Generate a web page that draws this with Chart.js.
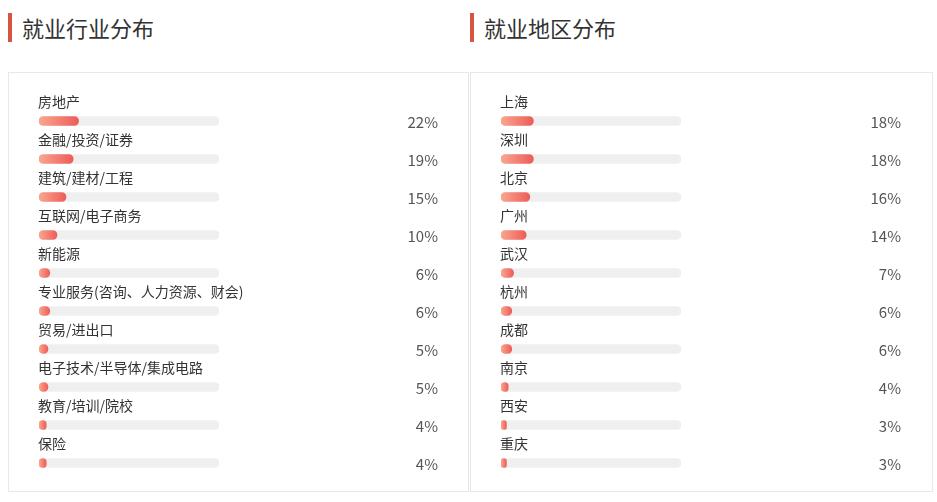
<!DOCTYPE html>
<html>
<head>
<meta charset="utf-8">
<script src="https://cdn.jsdelivr.net/npm/chart.js@4"></script>
<style>
  html,body{margin:0;padding:0;background:#fff;width:937px;height:502px;overflow:hidden;font-family:"Noto Sans CJK SC","Noto Sans",sans-serif;}
  .title{position:absolute;top:13px;height:29px;border-left:4px solid #d65444;padding-left:10px;font-size:22px;line-height:29px;color:#333;}
  .panel{position:absolute;top:72px;height:420px;border:1px solid #e8e8e8;box-sizing:border-box;}
  canvas{position:absolute;}
</style>
</head>
<body>
<div class="title" style="left:8px;">就业行业分布</div>
<div class="title" style="left:470px;">就业地区分布</div>
<div class="panel" style="left:8px;width:461px;"></div>
<div class="panel" style="left:470px;width:463px;"></div>
<div style="position:absolute;left:8px;top:72px;width:461px;height:421px;"><canvas id="c1"></canvas></div>
<div style="position:absolute;left:470px;top:72px;width:462px;height:421px;"><canvas id="c2"></canvas></div>
<script>
const industryLabels = ["房地产","金融/投资/证券","建筑/建材/工程","互联网/电子商务","新能源","专业服务(咨询、人力资源、财会)","贸易/进出口","电子技术/半导体/集成电路","教育/培训/院校","保险"];
const industryValues = [22,19,15,10,6,6,5,5,4,4];
const regionLabels = ["上海","深圳","北京","广州","武汉","杭州","成都","南京","西安","重庆"];
const regionValues = [18,18,16,14,7,6,6,4,3,3];
const trackMax = 100;

const textPlugin = {
  id: 'rowText',
  afterDatasetsDraw(chart) {
    const ctx = chart.ctx;
    const ys = chart.scales.y;
    const labels = chart.data.labels;
    const vals = chart.data.datasets[0].data;
    ctx.save();
    labels.forEach((lab, i) => {
      const y = ys.getPixelForValue(i);
      ctx.font = '14px "Noto Sans CJK SC", sans-serif';
      ctx.fillStyle = '#333';
      ctx.textAlign = 'left';
      ctx.textBaseline = 'middle';
      ctx.fillText(lab, chart.chartArea.left - 1, y - 19);
      ctx.font = '15px "Noto Sans CJK SC", sans-serif';
      ctx.fillStyle = '#555';
      ctx.textAlign = 'right';
      ctx.fillText(vals[i] + '%', chart.width - 31, y + 1);
    });
    ctx.restore();
  }
};

function gradFill(c) {
  const chart = c.chart;
  if (!chart.chartArea) return '#f37a6c';
  const xs = chart.scales.x;
  const x0 = xs.getPixelForValue(0);
  const x1 = xs.getPixelForValue(c.raw);
  const g = chart.ctx.createLinearGradient(x0, 0, Math.max(x1, x0 + 1), 0);
  g.addColorStop(0, '#f9a68f');
  g.addColorStop(1, '#ee5c58');
  return g;
}

function makeChart(id, labels, values, rightPad) {
  new Chart(document.getElementById(id), {
    type: 'bar',
    data: {
      labels: labels,
      datasets: [
        { data: values, backgroundColor: gradFill, borderRadius: 5, borderSkipped: false, barThickness: 9, grouped: false },
        { data: labels.map(() => trackMax), backgroundColor: '#efefef', borderRadius: 5, borderSkipped: false, barThickness: 9, grouped: false }
      ]
    },
    options: {
      indexAxis: 'y',
      responsive: true,
      maintainAspectRatio: false,
      animation: false,
      layout: { padding: { left: 31, right: rightPad, top: 30, bottom: 11 } },
      scales: {
        x: { display: false, min: 0, max: trackMax },
        y: { display: false }
      },
      plugins: { legend: { display: false }, tooltip: { enabled: false } }
    },
    plugins: [textPlugin]
  });
}
makeChart('c1', industryLabels, industryValues, 250);
makeChart('c2', regionLabels, regionValues, 251);
</script>
</body>
</html>
